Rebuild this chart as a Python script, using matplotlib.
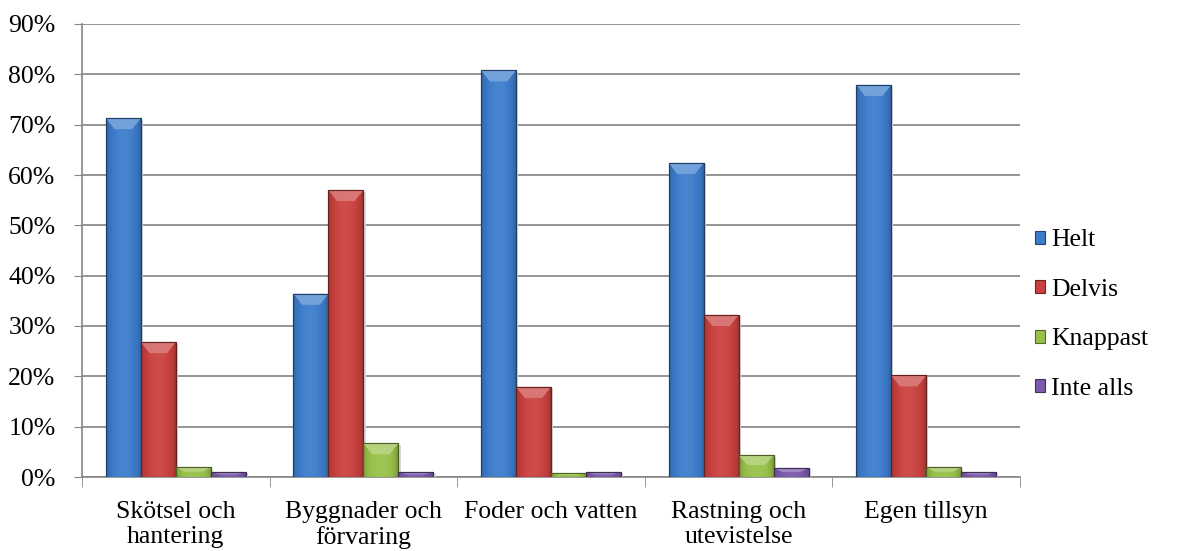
import numpy as np
import matplotlib.pyplot as plt
from matplotlib.patches import Polygon
from matplotlib.colors import to_rgb

plt.rcParams['font.family'] = ['Liberation Serif', 'DejaVu Serif']

# data
categories = ['Skötsel och\nhantering', 'Byggnader och\nförvaring', 'Foder och vatten',
              'Rastning och\nutevistelse', 'Egen tillsyn']
series = ['Helt', 'Delvis', 'Knappast', 'Inte alls']
helt = [71.3, 36.4, 80.8, 62.4, 77.9]
delvis = [26.8, 57.0, 17.9, 32.2, 20.2]
knappast = [1.9, 6.7, 0.8, 4.3, 1.9]
inte_alls = [1.0, 1.0, 1.0, 1.8, 1.0]
colors = ['#3D7CCB', '#C8413E', '#98C04A', '#7B5AAB']

values = [helt, delvis, knappast, inte_alls]
FS = 18.5

fig = plt.figure(figsize=(11.83, 5.51), dpi=100)
ax = fig.add_axes([82 / 1183, 74 / 551, 938 / 1183, 453 / 551])

n = len(categories)
bw = 0.1865
x = np.arange(n)


def shade(c, f):
    r = np.array(to_rgb(c))
    if f >= 1:
        return tuple(r + (1 - r) * (f - 1))
    return tuple(r * f)


handles = []
for i, (name, vals, col) in enumerate(zip(series, values, colors)):
    pos = x - 2 * bw + bw * i + bw / 2
    bars = ax.bar(pos, vals, width=bw, color=col, edgecolor=shade(col, 0.55),
                  linewidth=0.8, label=name, zorder=3)
    handles.append(bars)
    # horizontal gradient inside the bars
    g = np.linspace(0, 1, 64)
    prof = 0.76 + 0.3 * np.sin(np.pi * g) ** 0.5
    rgb = np.array([shade(col, p) for p in prof])
    rgb = np.clip(rgb, 0, 1)[None, :, :]
    for b in bars:
        bx, by = b.get_x(), b.get_y()
        w, h = b.get_width(), b.get_height()
        # soft shadow
        ax.add_patch(Polygon([[bx + 0.01, by - 0.25], [bx + w + 0.012, by - 0.25],
                              [bx + w + 0.012, by + h - 0.3], [bx + 0.01, by + h - 0.3]],
                             closed=True, facecolor='#D8D8D8', edgecolor='none', zorder=2.9))
        im = ax.imshow(rgb, extent=[bx, bx + w, by, by + h], aspect='auto',
                       zorder=3.5, interpolation='bilinear')
        im.set_clip_path(b)
        # top bevel
        d = min(2.2, h * 0.45)
        dx = w * 0.25
        top = Polygon([[bx, by + h], [bx + w, by + h], [bx + w - dx, by + h - d],
                       [bx + dx, by + h - d]], closed=True,
                      facecolor=shade(col, 1.28), edgecolor='none', zorder=3.6)
        ax.add_patch(top)
        ax.add_patch(Polygon([[bx, by], [bx + w, by], [bx + w, by + h], [bx, by + h]],
                             closed=True, fill=False, edgecolor=shade(col, 0.5),
                             linewidth=0.8, zorder=3.7))

ax.set_xlim(-0.5, n - 0.5)
ax.set_ylim(0, 90)
ax.set_yticks(np.arange(0, 91, 10))
ax.set_yticklabels([f'{v}%' for v in range(0, 91, 10)])
ax.set_xticks(x)
ax.set_xticklabels(categories, linespacing=1.2)
ax.set_xticks(np.arange(-0.5, n, 1), minor=True)
ax.tick_params(axis='x', which='major', length=0, pad=17, labelsize=FS)
ax.tick_params(axis='x', which='minor', length=7, color='#868686', direction='out')
ax.tick_params(axis='y', length=6, color='#868686', labelsize=FS, pad=13)
ax.grid(axis='y', color='#8C8C8C', linewidth=1.3, zorder=0)
ax.set_axisbelow(True)
for s in ['top', 'right']:
    ax.spines[s].set_visible(False)
for s in ['left', 'bottom']:
    ax.spines[s].set_color('#868686')
    ax.spines[s].set_linewidth(1.2)

leg = fig.legend(handles=handles, labels=series, loc='center left',
                 bbox_to_anchor=(1012 / 1183, 0.429), frameon=False, fontsize=FS,
                 handlelength=0.4, handleheight=0.4, handletextpad=0.22,
                 labelspacing=1.07)

fig.savefig('out.png', dpi=100)
